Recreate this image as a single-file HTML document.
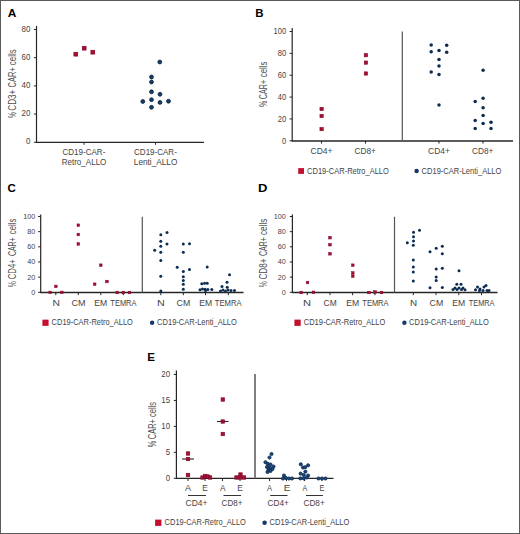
<!DOCTYPE html>
<html><head><meta charset="utf-8"><style>
html,body{margin:0;padding:0;background:#fff;}
svg{display:block;}
text{font-family:"Liberation Sans",sans-serif;}
</style></head><body>
<svg width="520" height="534" viewBox="0 0 520 534">
<rect x="0" y="0" width="520" height="534" fill="#fff"/>
<text x="7.7" y="16.5" font-size="11.63" textLength="8.61" lengthAdjust="spacingAndGlyphs" font-weight="bold" fill="#000">A</text>
<text x="255.23" y="16.5" font-size="11.63" textLength="8.29" lengthAdjust="spacingAndGlyphs" font-weight="bold" fill="#000">B</text>
<text x="7.53" y="192" font-size="11.63" textLength="8.28" lengthAdjust="spacingAndGlyphs" font-weight="bold" fill="#000">C</text>
<text x="258.13" y="192" font-size="11.63" textLength="9.42" lengthAdjust="spacingAndGlyphs" font-weight="bold" fill="#000">D</text>
<text x="147.22" y="361" font-size="11.63" textLength="7.73" lengthAdjust="spacingAndGlyphs" font-weight="bold" fill="#000">E</text>
<line x1="36.5" y1="26" x2="36.5" y2="142.9" stroke="#262626" stroke-width="1.2"/>
<line x1="33.9" y1="142.3" x2="36.5" y2="142.3" stroke="#262626" stroke-width="1"/>
<text x="25.9" y="144.3" font-size="8.72" textLength="4.41" lengthAdjust="spacingAndGlyphs" fill="#444444">0</text>
<line x1="33.9" y1="114.1" x2="36.5" y2="114.1" stroke="#262626" stroke-width="1"/>
<text x="21.48" y="116.1" font-size="8.72" textLength="8.83" lengthAdjust="spacingAndGlyphs" fill="#444444">20</text>
<line x1="33.9" y1="85.9" x2="36.5" y2="85.9" stroke="#262626" stroke-width="1"/>
<text x="21.48" y="87.9" font-size="8.72" textLength="8.83" lengthAdjust="spacingAndGlyphs" fill="#444444">40</text>
<line x1="33.9" y1="57.7" x2="36.5" y2="57.7" stroke="#262626" stroke-width="1"/>
<text x="21.48" y="59.7" font-size="8.72" textLength="8.83" lengthAdjust="spacingAndGlyphs" fill="#444444">60</text>
<line x1="33.9" y1="29.5" x2="36.5" y2="29.5" stroke="#262626" stroke-width="1"/>
<text x="21.48" y="31.5" font-size="8.72" textLength="8.83" lengthAdjust="spacingAndGlyphs" fill="#444444">80</text>
<line x1="36" y1="142.4" x2="204" y2="142.4" stroke="#262626" stroke-width="1.4"/>
<line x1="84" y1="142.1" x2="84" y2="144.8" stroke="#262626" stroke-width="1"/>
<line x1="155.5" y1="142.1" x2="155.5" y2="144.8" stroke="#262626" stroke-width="1"/>
<text x="62.39" y="154.8" font-size="8.43" textLength="42.97" lengthAdjust="spacingAndGlyphs" fill="#444444">CD19-CAR-</text>
<text x="61.64" y="164.5" font-size="8.28" textLength="44.75" lengthAdjust="spacingAndGlyphs" fill="#444444">Retro_ALLO</text>
<text x="134.09" y="154.8" font-size="8.43" textLength="42.76" lengthAdjust="spacingAndGlyphs" fill="#444444">CD19-CAR-</text>
<text x="133.82" y="164.5" font-size="8.28" textLength="43.57" lengthAdjust="spacingAndGlyphs" fill="#444444">Lenti_ALLO</text>
<text transform="translate(16 117.94) rotate(-90)" font-size="10.32" textLength="5.87" lengthAdjust="spacingAndGlyphs" fill="#4e4e4e">%</text>
<text transform="translate(16 110.71) rotate(-90)" font-size="10.32" textLength="21.01" lengthAdjust="spacingAndGlyphs" fill="#4e4e4e">CD3+</text>
<text transform="translate(16 87.38) rotate(-90)" font-size="10.32" textLength="20.25" lengthAdjust="spacingAndGlyphs" fill="#4e4e4e">CAR+</text>
<text transform="translate(16 65.14) rotate(-90)" font-size="10.32" textLength="15.82" lengthAdjust="spacingAndGlyphs" fill="#4e4e4e">cells</text>
<rect x="73.9" y="52.3" width="3.8" height="3.8" fill="#ab0c34" stroke="#7f0a26" stroke-width="0.7"/>
<rect x="82.3" y="46.3" width="3.8" height="3.8" fill="#ab0c34" stroke="#7f0a26" stroke-width="0.7"/>
<rect x="90.9" y="50.3" width="3.8" height="3.8" fill="#ab0c34" stroke="#7f0a26" stroke-width="0.7"/>
<circle cx="159.8" cy="62" r="1.95" fill="#163c66" stroke="#0a2240" stroke-width="0.8"/>
<circle cx="151.5" cy="77" r="1.95" fill="#163c66" stroke="#0a2240" stroke-width="0.8"/>
<circle cx="151.5" cy="82" r="1.95" fill="#163c66" stroke="#0a2240" stroke-width="0.8"/>
<circle cx="151.5" cy="91.8" r="1.95" fill="#163c66" stroke="#0a2240" stroke-width="0.8"/>
<circle cx="160" cy="94.3" r="1.95" fill="#163c66" stroke="#0a2240" stroke-width="0.8"/>
<circle cx="151.5" cy="99.7" r="1.95" fill="#163c66" stroke="#0a2240" stroke-width="0.8"/>
<circle cx="142.8" cy="101.5" r="1.95" fill="#163c66" stroke="#0a2240" stroke-width="0.8"/>
<circle cx="160" cy="102.4" r="1.95" fill="#163c66" stroke="#0a2240" stroke-width="0.8"/>
<circle cx="168.5" cy="101.2" r="1.95" fill="#163c66" stroke="#0a2240" stroke-width="0.8"/>
<circle cx="151.5" cy="107.3" r="1.95" fill="#163c66" stroke="#0a2240" stroke-width="0.8"/>
<line x1="292.2" y1="28" x2="292.2" y2="141.4" stroke="#262626" stroke-width="1.2"/>
<line x1="289.6" y1="140.8" x2="292.2" y2="140.8" stroke="#262626" stroke-width="1"/>
<text x="282" y="143.55" font-size="8.28" textLength="4.19" lengthAdjust="spacingAndGlyphs" fill="#444444">0</text>
<line x1="289.6" y1="118.94" x2="292.2" y2="118.94" stroke="#262626" stroke-width="1"/>
<text x="277.81" y="121.69" font-size="8.28" textLength="8.39" lengthAdjust="spacingAndGlyphs" fill="#444444">20</text>
<line x1="289.6" y1="97.08" x2="292.2" y2="97.08" stroke="#262626" stroke-width="1"/>
<text x="277.81" y="99.83" font-size="8.28" textLength="8.39" lengthAdjust="spacingAndGlyphs" fill="#444444">40</text>
<line x1="289.6" y1="75.22" x2="292.2" y2="75.22" stroke="#262626" stroke-width="1"/>
<text x="277.81" y="77.97" font-size="8.28" textLength="8.39" lengthAdjust="spacingAndGlyphs" fill="#444444">60</text>
<line x1="289.6" y1="53.36" x2="292.2" y2="53.36" stroke="#262626" stroke-width="1"/>
<text x="277.81" y="56.11" font-size="8.28" textLength="8.39" lengthAdjust="spacingAndGlyphs" fill="#444444">80</text>
<line x1="289.6" y1="31.5" x2="292.2" y2="31.5" stroke="#262626" stroke-width="1"/>
<text x="273.62" y="34.25" font-size="8.28" textLength="12.58" lengthAdjust="spacingAndGlyphs" fill="#444444">100</text>
<line x1="292" y1="141" x2="513" y2="141" stroke="#262626" stroke-width="1.4"/>
<line x1="402.3" y1="31.5" x2="402.3" y2="141" stroke="#555" stroke-width="1.2"/>
<line x1="321.5" y1="141" x2="321.5" y2="143.6" stroke="#262626" stroke-width="1"/>
<line x1="365.5" y1="141" x2="365.5" y2="143.6" stroke="#262626" stroke-width="1"/>
<line x1="439" y1="141" x2="439" y2="143.6" stroke="#262626" stroke-width="1"/>
<line x1="483" y1="141" x2="483" y2="143.6" stroke="#262626" stroke-width="1"/>
<text x="310.57" y="154" font-size="8.72" textLength="21.85" lengthAdjust="spacingAndGlyphs" fill="#444444">CD4+</text>
<text x="354.58" y="154" font-size="8.72" textLength="21.33" lengthAdjust="spacingAndGlyphs" fill="#444444">CD8+</text>
<text x="428.07" y="154" font-size="8.72" textLength="21.85" lengthAdjust="spacingAndGlyphs" fill="#444444">CD4+</text>
<text x="472.08" y="154" font-size="8.72" textLength="21.33" lengthAdjust="spacingAndGlyphs" fill="#444444">CD8+</text>
<text transform="translate(267.1 106.95) rotate(-90)" font-size="10.17" textLength="6.2" lengthAdjust="spacingAndGlyphs" fill="#4e4e4e">%</text>
<text transform="translate(267.1 99.16) rotate(-90)" font-size="10.17" textLength="19.21" lengthAdjust="spacingAndGlyphs" fill="#4e4e4e">CAR+</text>
<text transform="translate(267.1 77.13) rotate(-90)" font-size="10.17" textLength="15.51" lengthAdjust="spacingAndGlyphs" fill="#4e4e4e">cells</text>
<rect x="319.95" y="107.35" width="3.3" height="3.3" fill="#ab0c34" stroke="#7f0a26" stroke-width="0.6"/>
<rect x="319.95" y="114.35" width="3.3" height="3.3" fill="#ab0c34" stroke="#7f0a26" stroke-width="0.6"/>
<rect x="319.95" y="127.45" width="3.3" height="3.3" fill="#ab0c34" stroke="#7f0a26" stroke-width="0.6"/>
<rect x="364.25" y="53.55" width="3.3" height="3.3" fill="#ab0c34" stroke="#7f0a26" stroke-width="0.6"/>
<rect x="364.25" y="60.95" width="3.3" height="3.3" fill="#ab0c34" stroke="#7f0a26" stroke-width="0.6"/>
<rect x="364.25" y="71.85" width="3.3" height="3.3" fill="#ab0c34" stroke="#7f0a26" stroke-width="0.6"/>
<circle cx="431.2" cy="45" r="1.75" fill="#0c2c52"/>
<circle cx="446.7" cy="45.3" r="1.75" fill="#0c2c52"/>
<circle cx="431.2" cy="51.7" r="1.75" fill="#0c2c52"/>
<circle cx="439" cy="50.5" r="1.75" fill="#0c2c52"/>
<circle cx="446.7" cy="52.2" r="1.75" fill="#0c2c52"/>
<circle cx="439" cy="59.4" r="1.75" fill="#0c2c52"/>
<circle cx="439" cy="66" r="1.75" fill="#0c2c52"/>
<circle cx="431.2" cy="72.1" r="1.75" fill="#0c2c52"/>
<circle cx="439" cy="74.5" r="1.75" fill="#0c2c52"/>
<circle cx="439" cy="105" r="1.75" fill="#0c2c52"/>
<circle cx="483.1" cy="70.2" r="1.75" fill="#0c2c52"/>
<circle cx="483.1" cy="98.3" r="1.75" fill="#0c2c52"/>
<circle cx="475.2" cy="101.5" r="1.75" fill="#0c2c52"/>
<circle cx="483.1" cy="107.8" r="1.75" fill="#0c2c52"/>
<circle cx="483.1" cy="115.6" r="1.75" fill="#0c2c52"/>
<circle cx="475.2" cy="120.6" r="1.75" fill="#0c2c52"/>
<circle cx="483.1" cy="123.6" r="1.75" fill="#0c2c52"/>
<circle cx="491" cy="122.2" r="1.75" fill="#0c2c52"/>
<circle cx="475.2" cy="128.5" r="1.75" fill="#0c2c52"/>
<circle cx="491" cy="128.5" r="1.75" fill="#0c2c52"/>
<rect x="298.2" y="168.1" width="5.8" height="5.8" fill="#c4102e"/>
<text x="307.12" y="173.8" font-size="8.72" textLength="81.74" lengthAdjust="spacingAndGlyphs" fill="#444444">CD19-CAR-Retro_ALLO</text>
<circle cx="416.6" cy="171.1" r="2.25" fill="#123a68"/>
<text x="421.62" y="173.8" font-size="8.72" textLength="79.74" lengthAdjust="spacingAndGlyphs" fill="#444444">CD19-CAR-Lenti_ALLO</text>
<line x1="40.7" y1="214.5" x2="40.7" y2="292.9" stroke="#262626" stroke-width="1.2"/>
<line x1="38.1" y1="292.3" x2="40.7" y2="292.3" stroke="#262626" stroke-width="1"/>
<text x="31.24" y="294.8" font-size="7.99" textLength="4.05" lengthAdjust="spacingAndGlyphs" fill="#444444">0</text>
<line x1="38.1" y1="277.14" x2="40.7" y2="277.14" stroke="#262626" stroke-width="1"/>
<text x="27.19" y="279.64" font-size="7.99" textLength="8.09" lengthAdjust="spacingAndGlyphs" fill="#444444">20</text>
<line x1="38.1" y1="261.98" x2="40.7" y2="261.98" stroke="#262626" stroke-width="1"/>
<text x="27.19" y="264.48" font-size="7.99" textLength="8.09" lengthAdjust="spacingAndGlyphs" fill="#444444">40</text>
<line x1="38.1" y1="246.82" x2="40.7" y2="246.82" stroke="#262626" stroke-width="1"/>
<text x="27.19" y="249.32" font-size="7.99" textLength="8.09" lengthAdjust="spacingAndGlyphs" fill="#444444">60</text>
<line x1="38.1" y1="231.66" x2="40.7" y2="231.66" stroke="#262626" stroke-width="1"/>
<text x="27.19" y="234.16" font-size="7.99" textLength="8.09" lengthAdjust="spacingAndGlyphs" fill="#444444">80</text>
<line x1="38.1" y1="216.5" x2="40.7" y2="216.5" stroke="#262626" stroke-width="1"/>
<text x="23.15" y="219" font-size="7.99" textLength="12.14" lengthAdjust="spacingAndGlyphs" fill="#444444">100</text>
<line x1="40.2" y1="292.5" x2="243.5" y2="292.5" stroke="#262626" stroke-width="1.3"/>
<line x1="142.3" y1="216.8" x2="142.3" y2="292.5" stroke="#555" stroke-width="1.2"/>
<line x1="55.8" y1="292.5" x2="55.8" y2="295.2" stroke="#262626" stroke-width="1"/>
<line x1="78.3" y1="292.5" x2="78.3" y2="295.2" stroke="#262626" stroke-width="1"/>
<line x1="100.8" y1="292.5" x2="100.8" y2="295.2" stroke="#262626" stroke-width="1"/>
<line x1="123.3" y1="292.5" x2="123.3" y2="295.2" stroke="#262626" stroke-width="1"/>
<line x1="160.8" y1="292.5" x2="160.8" y2="295.2" stroke="#262626" stroke-width="1"/>
<line x1="183.3" y1="292.5" x2="183.3" y2="295.2" stroke="#262626" stroke-width="1"/>
<line x1="205.5" y1="292.5" x2="205.5" y2="295.2" stroke="#262626" stroke-width="1"/>
<line x1="228.3" y1="292.5" x2="228.3" y2="295.2" stroke="#262626" stroke-width="1"/>
<text x="52.41" y="305.6" font-size="8.58" textLength="7.43" lengthAdjust="spacingAndGlyphs" fill="#444444">N</text>
<text x="71.54" y="305.6" font-size="8.58" textLength="14" lengthAdjust="spacingAndGlyphs" fill="#444444">CM</text>
<text x="94.29" y="305.6" font-size="8.58" textLength="12.91" lengthAdjust="spacingAndGlyphs" fill="#444444">EM</text>
<text x="110.33" y="305.6" font-size="8.58" textLength="26.18" lengthAdjust="spacingAndGlyphs" fill="#444444">TEMRA</text>
<text x="157.12" y="305.6" font-size="8.58" textLength="7.76" lengthAdjust="spacingAndGlyphs" fill="#444444">N</text>
<text x="176.55" y="305.6" font-size="8.58" textLength="13.67" lengthAdjust="spacingAndGlyphs" fill="#444444">CM</text>
<text x="199.29" y="305.6" font-size="8.58" textLength="12.91" lengthAdjust="spacingAndGlyphs" fill="#444444">EM</text>
<text x="214.83" y="305.6" font-size="8.58" textLength="26.69" lengthAdjust="spacingAndGlyphs" fill="#444444">TEMRA</text>
<text transform="translate(15.6 287.34) rotate(-90)" font-size="10.17" textLength="6.09" lengthAdjust="spacingAndGlyphs" fill="#4e4e4e">%</text>
<text transform="translate(15.6 279.19) rotate(-90)" font-size="10.17" textLength="19.87" lengthAdjust="spacingAndGlyphs" fill="#4e4e4e">CD4+</text>
<text transform="translate(15.6 255.95) rotate(-90)" font-size="10.17" textLength="18.49" lengthAdjust="spacingAndGlyphs" fill="#4e4e4e">CAR+</text>
<text transform="translate(15.6 234.23) rotate(-90)" font-size="10.17" textLength="15.51" lengthAdjust="spacingAndGlyphs" fill="#4e4e4e">cells</text>
<rect x="54.6" y="285.1" width="2.6" height="2.6" fill="#ab0c34" stroke="#7f0a26" stroke-width="0.5"/>
<rect x="48.8" y="291.1" width="2.6" height="2.6" fill="#ab0c34" stroke="#7f0a26" stroke-width="0.5"/>
<rect x="60.6" y="291.1" width="2.6" height="2.6" fill="#ab0c34" stroke="#7f0a26" stroke-width="0.5"/>
<rect x="77" y="223.9" width="2.6" height="2.6" fill="#ab0c34" stroke="#7f0a26" stroke-width="0.5"/>
<rect x="77" y="233.2" width="2.6" height="2.6" fill="#ab0c34" stroke="#7f0a26" stroke-width="0.5"/>
<rect x="77" y="242.7" width="2.6" height="2.6" fill="#ab0c34" stroke="#7f0a26" stroke-width="0.5"/>
<rect x="99.5" y="263.9" width="2.6" height="2.6" fill="#ab0c34" stroke="#7f0a26" stroke-width="0.5"/>
<rect x="93.4" y="282.9" width="2.6" height="2.6" fill="#ab0c34" stroke="#7f0a26" stroke-width="0.5"/>
<rect x="105.7" y="280.2" width="2.6" height="2.6" fill="#ab0c34" stroke="#7f0a26" stroke-width="0.5"/>
<rect x="115.9" y="291.2" width="2.6" height="2.6" fill="#ab0c34" stroke="#7f0a26" stroke-width="0.5"/>
<rect x="122" y="291.2" width="2.6" height="2.6" fill="#ab0c34" stroke="#7f0a26" stroke-width="0.5"/>
<rect x="128.2" y="291.2" width="2.6" height="2.6" fill="#ab0c34" stroke="#7f0a26" stroke-width="0.5"/>
<circle cx="160.8" cy="234.7" r="1.5" fill="#0c2c52"/>
<circle cx="167" cy="232.5" r="1.5" fill="#0c2c52"/>
<circle cx="160.8" cy="241.2" r="1.5" fill="#0c2c52"/>
<circle cx="167" cy="244" r="1.5" fill="#0c2c52"/>
<circle cx="160.8" cy="246.2" r="1.5" fill="#0c2c52"/>
<circle cx="154.7" cy="250.2" r="1.5" fill="#0c2c52"/>
<circle cx="160.8" cy="252.3" r="1.5" fill="#0c2c52"/>
<circle cx="160.8" cy="260.5" r="1.5" fill="#0c2c52"/>
<circle cx="160.8" cy="276.3" r="1.5" fill="#0c2c52"/>
<circle cx="160.8" cy="291" r="1.5" fill="#0c2c52"/>
<circle cx="183.3" cy="244" r="1.5" fill="#0c2c52"/>
<circle cx="189.5" cy="243.8" r="1.5" fill="#0c2c52"/>
<circle cx="183.3" cy="252.3" r="1.5" fill="#0c2c52"/>
<circle cx="177.2" cy="267.3" r="1.5" fill="#0c2c52"/>
<circle cx="183.3" cy="271.5" r="1.5" fill="#0c2c52"/>
<circle cx="189.5" cy="269.5" r="1.5" fill="#0c2c52"/>
<circle cx="183.3" cy="276.8" r="1.5" fill="#0c2c52"/>
<circle cx="183.3" cy="280.5" r="1.5" fill="#0c2c52"/>
<circle cx="183.3" cy="284.3" r="1.5" fill="#0c2c52"/>
<circle cx="183.3" cy="289.3" r="1.5" fill="#0c2c52"/>
<circle cx="207.2" cy="267" r="1.5" fill="#0c2c52"/>
<circle cx="201.8" cy="283.7" r="1.5" fill="#0c2c52"/>
<circle cx="204.5" cy="283.2" r="1.5" fill="#0c2c52"/>
<circle cx="207.2" cy="283.2" r="1.5" fill="#0c2c52"/>
<circle cx="200" cy="289.7" r="1.5" fill="#0c2c52"/>
<circle cx="202.5" cy="289" r="1.5" fill="#0c2c52"/>
<circle cx="205" cy="289.2" r="1.5" fill="#0c2c52"/>
<circle cx="207.8" cy="289.4" r="1.5" fill="#0c2c52"/>
<circle cx="211.8" cy="289.5" r="1.5" fill="#0c2c52"/>
<circle cx="205.5" cy="290.5" r="1.5" fill="#0c2c52"/>
<circle cx="229.5" cy="274.8" r="1.5" fill="#0c2c52"/>
<circle cx="227" cy="282.2" r="1.5" fill="#0c2c52"/>
<circle cx="222" cy="286.5" r="1.5" fill="#0c2c52"/>
<circle cx="227.2" cy="287.2" r="1.5" fill="#0c2c52"/>
<circle cx="223" cy="290" r="1.5" fill="#0c2c52"/>
<circle cx="228" cy="290" r="1.5" fill="#0c2c52"/>
<circle cx="231" cy="290.5" r="1.5" fill="#0c2c52"/>
<circle cx="234.5" cy="290.5" r="1.5" fill="#0c2c52"/>
<circle cx="225.5" cy="291" r="1.5" fill="#0c2c52"/>
<circle cx="220.5" cy="291" r="1.5" fill="#0c2c52"/>
<rect x="42.4" y="319.65" width="6.2" height="6.2" fill="#c4102e"/>
<text x="51.62" y="325.2" font-size="8.72" textLength="81.24" lengthAdjust="spacingAndGlyphs" fill="#444444">CD19-CAR-Retro_ALLO</text>
<circle cx="152.1" cy="322.7" r="2.2" fill="#123a68"/>
<text x="157.12" y="325.2" font-size="8.72" textLength="79.74" lengthAdjust="spacingAndGlyphs" fill="#444444">CD19-CAR-Lenti_ALLO</text>
<line x1="292.4" y1="214.5" x2="292.4" y2="292.9" stroke="#262626" stroke-width="1.2"/>
<line x1="289.8" y1="292.3" x2="292.4" y2="292.3" stroke="#262626" stroke-width="1"/>
<text x="281.74" y="294.8" font-size="7.99" textLength="4.05" lengthAdjust="spacingAndGlyphs" fill="#444444">0</text>
<line x1="289.8" y1="277.14" x2="292.4" y2="277.14" stroke="#262626" stroke-width="1"/>
<text x="277.69" y="279.64" font-size="7.99" textLength="8.09" lengthAdjust="spacingAndGlyphs" fill="#444444">20</text>
<line x1="289.8" y1="261.98" x2="292.4" y2="261.98" stroke="#262626" stroke-width="1"/>
<text x="277.69" y="264.48" font-size="7.99" textLength="8.09" lengthAdjust="spacingAndGlyphs" fill="#444444">40</text>
<line x1="289.8" y1="246.82" x2="292.4" y2="246.82" stroke="#262626" stroke-width="1"/>
<text x="277.69" y="249.32" font-size="7.99" textLength="8.09" lengthAdjust="spacingAndGlyphs" fill="#444444">60</text>
<line x1="289.8" y1="231.66" x2="292.4" y2="231.66" stroke="#262626" stroke-width="1"/>
<text x="277.69" y="234.16" font-size="7.99" textLength="8.09" lengthAdjust="spacingAndGlyphs" fill="#444444">80</text>
<line x1="289.8" y1="216.5" x2="292.4" y2="216.5" stroke="#262626" stroke-width="1"/>
<text x="273.65" y="219" font-size="7.99" textLength="12.14" lengthAdjust="spacingAndGlyphs" fill="#444444">100</text>
<line x1="291.9" y1="292.5" x2="497.5" y2="292.5" stroke="#262626" stroke-width="1.3"/>
<line x1="394.5" y1="216.8" x2="394.5" y2="292.5" stroke="#555" stroke-width="1.2"/>
<line x1="307.3" y1="292.5" x2="307.3" y2="295.2" stroke="#262626" stroke-width="1"/>
<line x1="330" y1="292.5" x2="330" y2="295.2" stroke="#262626" stroke-width="1"/>
<line x1="352.6" y1="292.5" x2="352.6" y2="295.2" stroke="#262626" stroke-width="1"/>
<line x1="375" y1="292.5" x2="375" y2="295.2" stroke="#262626" stroke-width="1"/>
<line x1="413.3" y1="292.5" x2="413.3" y2="295.2" stroke="#262626" stroke-width="1"/>
<line x1="436" y1="292.5" x2="436" y2="295.2" stroke="#262626" stroke-width="1"/>
<line x1="458.8" y1="292.5" x2="458.8" y2="295.2" stroke="#262626" stroke-width="1"/>
<line x1="481.5" y1="292.5" x2="481.5" y2="295.2" stroke="#262626" stroke-width="1"/>
<text x="303.09" y="305.6" font-size="8.58" textLength="8.02" lengthAdjust="spacingAndGlyphs" fill="#444444">N</text>
<text x="323.57" y="305.6" font-size="8.58" textLength="13.12" lengthAdjust="spacingAndGlyphs" fill="#444444">CM</text>
<text x="346.29" y="305.6" font-size="8.58" textLength="12.91" lengthAdjust="spacingAndGlyphs" fill="#444444">EM</text>
<text x="362.33" y="305.6" font-size="8.58" textLength="26.18" lengthAdjust="spacingAndGlyphs" fill="#444444">TEMRA</text>
<text x="409.99" y="305.6" font-size="8.58" textLength="7.11" lengthAdjust="spacingAndGlyphs" fill="#444444">N</text>
<text x="429.55" y="305.6" font-size="8.58" textLength="13.67" lengthAdjust="spacingAndGlyphs" fill="#444444">CM</text>
<text x="452.29" y="305.6" font-size="8.58" textLength="12.91" lengthAdjust="spacingAndGlyphs" fill="#444444">EM</text>
<text x="468.84" y="305.6" font-size="8.58" textLength="25.68" lengthAdjust="spacingAndGlyphs" fill="#444444">TEMRA</text>
<text transform="translate(267 287.34) rotate(-90)" font-size="10.17" textLength="6.09" lengthAdjust="spacingAndGlyphs" fill="#4e4e4e">%</text>
<text transform="translate(267 279.61) rotate(-90)" font-size="10.17" textLength="21.01" lengthAdjust="spacingAndGlyphs" fill="#4e4e4e">CD8+</text>
<text transform="translate(267 255.95) rotate(-90)" font-size="10.17" textLength="18.8" lengthAdjust="spacingAndGlyphs" fill="#4e4e4e">CAR+</text>
<text transform="translate(267 234.94) rotate(-90)" font-size="10.17" textLength="16.24" lengthAdjust="spacingAndGlyphs" fill="#4e4e4e">cells</text>
<rect x="306.2" y="281.2" width="2.6" height="2.6" fill="#ab0c34" stroke="#7f0a26" stroke-width="0.5"/>
<rect x="299.9" y="291.2" width="2.6" height="2.6" fill="#ab0c34" stroke="#7f0a26" stroke-width="0.5"/>
<rect x="312.2" y="291" width="2.6" height="2.6" fill="#ab0c34" stroke="#7f0a26" stroke-width="0.5"/>
<rect x="328.7" y="236.4" width="2.6" height="2.6" fill="#ab0c34" stroke="#7f0a26" stroke-width="0.5"/>
<rect x="328.7" y="243.4" width="2.6" height="2.6" fill="#ab0c34" stroke="#7f0a26" stroke-width="0.5"/>
<rect x="328.7" y="252.5" width="2.6" height="2.6" fill="#ab0c34" stroke="#7f0a26" stroke-width="0.5"/>
<rect x="351.5" y="263.9" width="2.6" height="2.6" fill="#ab0c34" stroke="#7f0a26" stroke-width="0.5"/>
<rect x="351.5" y="271.7" width="2.6" height="2.6" fill="#ab0c34" stroke="#7f0a26" stroke-width="0.5"/>
<rect x="351.5" y="274.9" width="2.6" height="2.6" fill="#ab0c34" stroke="#7f0a26" stroke-width="0.5"/>
<rect x="367.7" y="291.2" width="2.6" height="2.6" fill="#ab0c34" stroke="#7f0a26" stroke-width="0.5"/>
<rect x="373.7" y="290.7" width="2.6" height="2.6" fill="#ab0c34" stroke="#7f0a26" stroke-width="0.5"/>
<rect x="380.2" y="291.2" width="2.6" height="2.6" fill="#ab0c34" stroke="#7f0a26" stroke-width="0.5"/>
<circle cx="419.5" cy="230.3" r="1.5" fill="#0c2c52"/>
<circle cx="413.5" cy="232.3" r="1.5" fill="#0c2c52"/>
<circle cx="413.5" cy="236.8" r="1.5" fill="#0c2c52"/>
<circle cx="413.5" cy="241" r="1.5" fill="#0c2c52"/>
<circle cx="407.3" cy="242.8" r="1.5" fill="#0c2c52"/>
<circle cx="413.3" cy="245.3" r="1.5" fill="#0c2c52"/>
<circle cx="413.3" cy="260" r="1.5" fill="#0c2c52"/>
<circle cx="413.3" cy="267" r="1.5" fill="#0c2c52"/>
<circle cx="413.3" cy="272" r="1.5" fill="#0c2c52"/>
<circle cx="413.3" cy="281" r="1.5" fill="#0c2c52"/>
<circle cx="442.3" cy="246.3" r="1.5" fill="#0c2c52"/>
<circle cx="436.2" cy="248.3" r="1.5" fill="#0c2c52"/>
<circle cx="430" cy="251.7" r="1.5" fill="#0c2c52"/>
<circle cx="442.3" cy="253.7" r="1.5" fill="#0c2c52"/>
<circle cx="436.2" cy="269" r="1.5" fill="#0c2c52"/>
<circle cx="442.3" cy="268.3" r="1.5" fill="#0c2c52"/>
<circle cx="436.2" cy="277" r="1.5" fill="#0c2c52"/>
<circle cx="436.2" cy="280.5" r="1.5" fill="#0c2c52"/>
<circle cx="430" cy="287.8" r="1.5" fill="#0c2c52"/>
<circle cx="442.3" cy="287.5" r="1.5" fill="#0c2c52"/>
<circle cx="459" cy="270.8" r="1.5" fill="#0c2c52"/>
<circle cx="456.8" cy="284.3" r="1.5" fill="#0c2c52"/>
<circle cx="461" cy="284.3" r="1.5" fill="#0c2c52"/>
<circle cx="455" cy="288" r="1.5" fill="#0c2c52"/>
<circle cx="459" cy="288" r="1.5" fill="#0c2c52"/>
<circle cx="463" cy="288" r="1.5" fill="#0c2c52"/>
<circle cx="453" cy="289.5" r="1.5" fill="#0c2c52"/>
<circle cx="457" cy="289.5" r="1.5" fill="#0c2c52"/>
<circle cx="461.5" cy="289.5" r="1.5" fill="#0c2c52"/>
<circle cx="465" cy="289.8" r="1.5" fill="#0c2c52"/>
<circle cx="486" cy="285.5" r="1.5" fill="#0c2c52"/>
<circle cx="484" cy="287" r="1.5" fill="#0c2c52"/>
<circle cx="477.5" cy="287" r="1.5" fill="#0c2c52"/>
<circle cx="480" cy="289" r="1.5" fill="#0c2c52"/>
<circle cx="475.5" cy="289.8" r="1.5" fill="#0c2c52"/>
<circle cx="479.5" cy="290.5" r="1.5" fill="#0c2c52"/>
<circle cx="483" cy="290.5" r="1.5" fill="#0c2c52"/>
<circle cx="487" cy="290.5" r="1.5" fill="#0c2c52"/>
<circle cx="489" cy="290.5" r="1.5" fill="#0c2c52"/>
<rect x="294.4" y="319.6" width="6.3" height="6.3" fill="#c4102e"/>
<text x="303.82" y="325.2" font-size="8.72" textLength="81.54" lengthAdjust="spacingAndGlyphs" fill="#444444">CD19-CAR-Retro_ALLO</text>
<circle cx="404.4" cy="322.7" r="2.2" fill="#123a68"/>
<text x="409.12" y="325.2" font-size="8.72" textLength="79.74" lengthAdjust="spacingAndGlyphs" fill="#444444">CD19-CAR-Lenti_ALLO</text>
<line x1="176.4" y1="370.5" x2="176.4" y2="478.9" stroke="#262626" stroke-width="1.2"/>
<line x1="173.8" y1="478.3" x2="176.4" y2="478.3" stroke="#262626" stroke-width="1"/>
<text x="165.7" y="480.8" font-size="8.72" textLength="4.41" lengthAdjust="spacingAndGlyphs" fill="#444444">0</text>
<line x1="173.8" y1="452.35" x2="176.4" y2="452.35" stroke="#262626" stroke-width="1"/>
<text x="165.72" y="454.85" font-size="8.72" textLength="4.41" lengthAdjust="spacingAndGlyphs" fill="#444444">5</text>
<line x1="173.8" y1="426.4" x2="176.4" y2="426.4" stroke="#262626" stroke-width="1"/>
<text x="161.28" y="428.9" font-size="8.72" textLength="8.83" lengthAdjust="spacingAndGlyphs" fill="#444444">10</text>
<line x1="173.8" y1="400.45" x2="176.4" y2="400.45" stroke="#262626" stroke-width="1"/>
<text x="161.31" y="402.95" font-size="8.72" textLength="8.83" lengthAdjust="spacingAndGlyphs" fill="#444444">15</text>
<line x1="173.8" y1="374.5" x2="176.4" y2="374.5" stroke="#262626" stroke-width="1"/>
<text x="161.28" y="377" font-size="8.72" textLength="8.83" lengthAdjust="spacingAndGlyphs" fill="#444444">20</text>
<line x1="176" y1="478.3" x2="333.5" y2="478.3" stroke="#262626" stroke-width="1.3"/>
<line x1="255" y1="374" x2="255" y2="478.3" stroke="#808080" stroke-width="2"/>
<line x1="188" y1="478.3" x2="188" y2="481" stroke="#262626" stroke-width="1"/>
<line x1="205" y1="478.3" x2="205" y2="481" stroke="#262626" stroke-width="1"/>
<line x1="222.5" y1="478.3" x2="222.5" y2="481" stroke="#262626" stroke-width="1"/>
<line x1="240" y1="478.3" x2="240" y2="481" stroke="#262626" stroke-width="1"/>
<line x1="269.5" y1="478.3" x2="269.5" y2="481" stroke="#262626" stroke-width="1"/>
<line x1="286.5" y1="478.3" x2="286.5" y2="481" stroke="#262626" stroke-width="1"/>
<line x1="304.5" y1="478.3" x2="304.5" y2="481" stroke="#262626" stroke-width="1"/>
<line x1="322" y1="478.3" x2="322" y2="481" stroke="#262626" stroke-width="1"/>
<text x="184.98" y="491" font-size="8.14" textLength="6.04" lengthAdjust="spacingAndGlyphs" fill="#444444">A</text>
<text x="202.32" y="491" font-size="8.14" textLength="5.54" lengthAdjust="spacingAndGlyphs" fill="#444444">E</text>
<text x="219.98" y="491" font-size="8.14" textLength="5.53" lengthAdjust="spacingAndGlyphs" fill="#444444">A</text>
<text x="237.32" y="491" font-size="8.14" textLength="5.54" lengthAdjust="spacingAndGlyphs" fill="#444444">E</text>
<text x="266.99" y="491" font-size="8.14" textLength="5.03" lengthAdjust="spacingAndGlyphs" fill="#444444">A</text>
<text x="283.78" y="491" font-size="8.14" textLength="6.65" lengthAdjust="spacingAndGlyphs" fill="#444444">E</text>
<text x="302.39" y="491" font-size="8.14" textLength="4.73" lengthAdjust="spacingAndGlyphs" fill="#444444">A</text>
<text x="319.39" y="491" font-size="8.14" textLength="4.92" lengthAdjust="spacingAndGlyphs" fill="#444444">E</text>
<line x1="188" y1="495.5" x2="206" y2="495.5" stroke="#333" stroke-width="1"/>
<line x1="223.5" y1="495.5" x2="241" y2="495.5" stroke="#333" stroke-width="1"/>
<line x1="270.2" y1="495.5" x2="287.5" y2="495.5" stroke="#333" stroke-width="1"/>
<line x1="306" y1="495.5" x2="322.9" y2="495.5" stroke="#333" stroke-width="1"/>
<text x="185.57" y="505.5" font-size="8.43" textLength="21.85" lengthAdjust="spacingAndGlyphs" fill="#444444">CD4+</text>
<text x="221.59" y="505.5" font-size="8.43" textLength="20.81" lengthAdjust="spacingAndGlyphs" fill="#444444">CD8+</text>
<text x="267.58" y="505.5" font-size="8.43" textLength="21.33" lengthAdjust="spacingAndGlyphs" fill="#444444">CD4+</text>
<text x="303.48" y="505.5" font-size="8.43" textLength="21.22" lengthAdjust="spacingAndGlyphs" fill="#444444">CD8+</text>
<text transform="translate(155.8 447.26) rotate(-90)" font-size="10.32" textLength="6.52" lengthAdjust="spacingAndGlyphs" fill="#4e4e4e">%</text>
<text transform="translate(155.8 439.18) rotate(-90)" font-size="10.32" textLength="20.04" lengthAdjust="spacingAndGlyphs" fill="#4e4e4e">CAR+</text>
<text transform="translate(155.8 417.12) rotate(-90)" font-size="10.32" textLength="15.2" lengthAdjust="spacingAndGlyphs" fill="#4e4e4e">cells</text>
<line x1="182" y1="459" x2="194" y2="459" stroke="#2a2a2a" stroke-width="1.1"/>
<line x1="217" y1="421.5" x2="228.5" y2="421.5" stroke="#2a2a2a" stroke-width="1.1"/>
<rect x="186.3" y="451.8" width="3.4" height="3.4" fill="#ab0c34" stroke="#7f0a26" stroke-width="0.7"/>
<rect x="186.3" y="457.3" width="3.4" height="3.4" fill="#ab0c34" stroke="#7f0a26" stroke-width="0.7"/>
<rect x="186.3" y="473.3" width="3.4" height="3.4" fill="#ab0c34" stroke="#7f0a26" stroke-width="0.7"/>
<rect x="200.8" y="475.8" width="3.4" height="3.4" fill="#ab0c34" stroke="#7f0a26" stroke-width="0.7"/>
<rect x="203.3" y="474.3" width="3.4" height="3.4" fill="#ab0c34" stroke="#7f0a26" stroke-width="0.7"/>
<rect x="205.8" y="474.8" width="3.4" height="3.4" fill="#ab0c34" stroke="#7f0a26" stroke-width="0.7"/>
<rect x="208.3" y="475.8" width="3.4" height="3.4" fill="#ab0c34" stroke="#7f0a26" stroke-width="0.7"/>
<rect x="221.1" y="397.8" width="3.4" height="3.4" fill="#ab0c34" stroke="#7f0a26" stroke-width="0.7"/>
<rect x="221.1" y="419.8" width="3.4" height="3.4" fill="#ab0c34" stroke="#7f0a26" stroke-width="0.7"/>
<rect x="221.1" y="432.3" width="3.4" height="3.4" fill="#ab0c34" stroke="#7f0a26" stroke-width="0.7"/>
<rect x="238.8" y="472.8" width="3.4" height="3.4" fill="#ab0c34" stroke="#7f0a26" stroke-width="0.7"/>
<rect x="234.8" y="475.8" width="3.4" height="3.4" fill="#ab0c34" stroke="#7f0a26" stroke-width="0.7"/>
<rect x="238.3" y="475.8" width="3.4" height="3.4" fill="#ab0c34" stroke="#7f0a26" stroke-width="0.7"/>
<rect x="242.3" y="475.8" width="3.4" height="3.4" fill="#ab0c34" stroke="#7f0a26" stroke-width="0.7"/>
<circle cx="271.5" cy="454" r="1.55" fill="#1d4a7f" stroke="#0b2a4e" stroke-width="0.9"/>
<circle cx="269.5" cy="457.5" r="1.55" fill="#1d4a7f" stroke="#0b2a4e" stroke-width="0.9"/>
<circle cx="265.5" cy="462.2" r="1.55" fill="#1d4a7f" stroke="#0b2a4e" stroke-width="0.9"/>
<circle cx="268" cy="464" r="1.55" fill="#1d4a7f" stroke="#0b2a4e" stroke-width="0.9"/>
<circle cx="270.5" cy="464.5" r="1.55" fill="#1d4a7f" stroke="#0b2a4e" stroke-width="0.9"/>
<circle cx="273.5" cy="466.5" r="1.55" fill="#1d4a7f" stroke="#0b2a4e" stroke-width="0.9"/>
<circle cx="267" cy="467" r="1.55" fill="#1d4a7f" stroke="#0b2a4e" stroke-width="0.9"/>
<circle cx="270" cy="468" r="1.55" fill="#1d4a7f" stroke="#0b2a4e" stroke-width="0.9"/>
<circle cx="272.5" cy="469" r="1.55" fill="#1d4a7f" stroke="#0b2a4e" stroke-width="0.9"/>
<circle cx="268.5" cy="470" r="1.55" fill="#1d4a7f" stroke="#0b2a4e" stroke-width="0.9"/>
<circle cx="267.5" cy="472" r="1.55" fill="#1d4a7f" stroke="#0b2a4e" stroke-width="0.9"/>
<circle cx="270.5" cy="471" r="1.55" fill="#1d4a7f" stroke="#0b2a4e" stroke-width="0.9"/>
<circle cx="284" cy="475.5" r="1.55" fill="#1d4a7f" stroke="#0b2a4e" stroke-width="0.9"/>
<circle cx="283" cy="478.5" r="1.55" fill="#1d4a7f" stroke="#0b2a4e" stroke-width="0.9"/>
<circle cx="286" cy="478" r="1.55" fill="#1d4a7f" stroke="#0b2a4e" stroke-width="0.9"/>
<circle cx="289" cy="478.5" r="1.55" fill="#1d4a7f" stroke="#0b2a4e" stroke-width="0.9"/>
<circle cx="292" cy="478.5" r="1.55" fill="#1d4a7f" stroke="#0b2a4e" stroke-width="0.9"/>
<circle cx="300.8" cy="464.3" r="1.55" fill="#1d4a7f" stroke="#0b2a4e" stroke-width="0.9"/>
<circle cx="308.1" cy="465.3" r="1.55" fill="#1d4a7f" stroke="#0b2a4e" stroke-width="0.9"/>
<circle cx="303" cy="467.5" r="1.55" fill="#1d4a7f" stroke="#0b2a4e" stroke-width="0.9"/>
<circle cx="305.2" cy="467.2" r="1.55" fill="#1d4a7f" stroke="#0b2a4e" stroke-width="0.9"/>
<circle cx="305.4" cy="471.6" r="1.55" fill="#1d4a7f" stroke="#0b2a4e" stroke-width="0.9"/>
<circle cx="300.6" cy="473.6" r="1.55" fill="#1d4a7f" stroke="#0b2a4e" stroke-width="0.9"/>
<circle cx="303.7" cy="475" r="1.55" fill="#1d4a7f" stroke="#0b2a4e" stroke-width="0.9"/>
<circle cx="308.1" cy="475.5" r="1.55" fill="#1d4a7f" stroke="#0b2a4e" stroke-width="0.9"/>
<circle cx="300.3" cy="478.4" r="1.55" fill="#1d4a7f" stroke="#0b2a4e" stroke-width="0.9"/>
<circle cx="303.7" cy="478.4" r="1.55" fill="#1d4a7f" stroke="#0b2a4e" stroke-width="0.9"/>
<circle cx="306.7" cy="477.5" r="1.55" fill="#1d4a7f" stroke="#0b2a4e" stroke-width="0.9"/>
<circle cx="318.5" cy="478.5" r="1.55" fill="#1d4a7f" stroke="#0b2a4e" stroke-width="0.9"/>
<circle cx="322" cy="478.5" r="1.55" fill="#1d4a7f" stroke="#0b2a4e" stroke-width="0.9"/>
<circle cx="325.5" cy="478.5" r="1.55" fill="#1d4a7f" stroke="#0b2a4e" stroke-width="0.9"/>
<rect x="155.1" y="519.6" width="6.3" height="6.3" fill="#c4102e"/>
<text x="164.62" y="525.3" font-size="8.43" textLength="81.24" lengthAdjust="spacingAndGlyphs" fill="#444444">CD19-CAR-Retro_ALLO</text>
<circle cx="264.6" cy="522.7" r="2.25" fill="#123a68"/>
<text x="269.62" y="525.3" font-size="8.43" textLength="79.74" lengthAdjust="spacingAndGlyphs" fill="#444444">CD19-CAR-Lenti_ALLO</text>
<rect x="0.5" y="0.5" width="519" height="533" fill="none" stroke="#5a5a5a" stroke-width="1"/>
</svg>
</body></html>
